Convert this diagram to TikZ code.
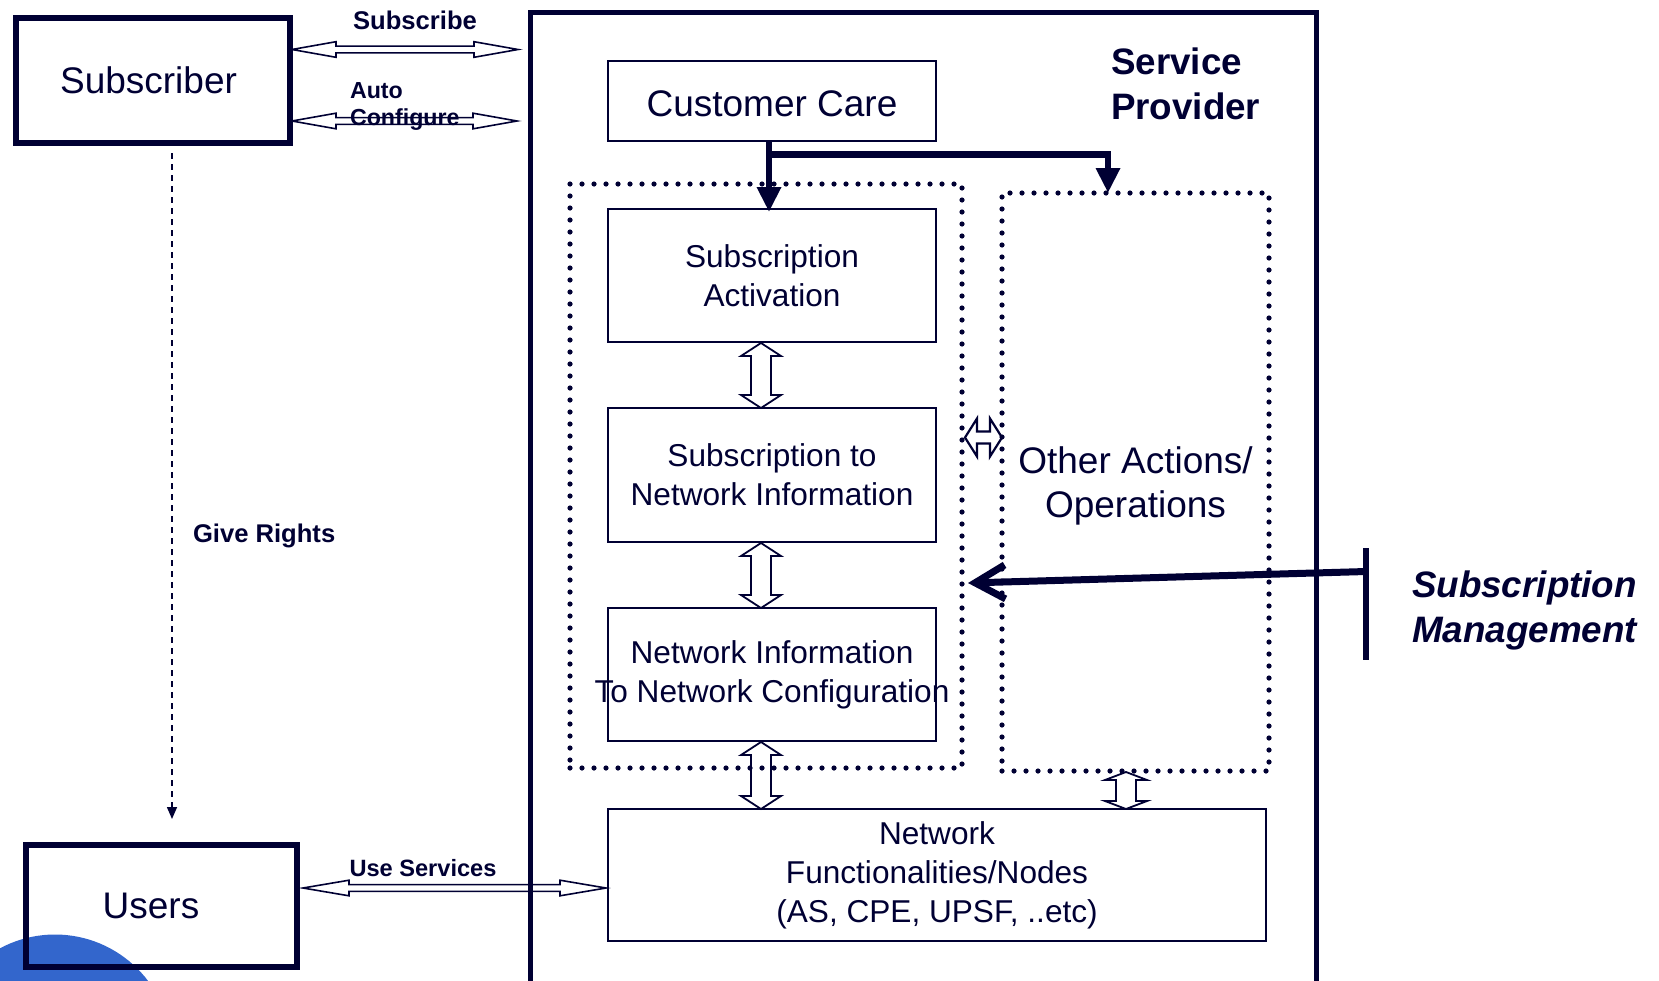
\documentclass[tikz,border=0pt]{standalone}
\usepackage{fontspec}
\setmainfont{Liberation Sans}
\usetikzlibrary{calc,arrows.meta}

\definecolor{c000033}{RGB}{0,0,51}
\definecolor{c3366cc}{RGB}{51,102,204}

\tikzset{
  actorbox/.style={draw=c000033, line width=3pt, text=c000033,
    font=\fontsize{18.5}{22}\selectfont},
  funcbox/.style={draw=c000033, line width=1pt, text=c000033, align=center,
    font=\fontsize{15.8}{19.5}\selectfont},
  groupbox/.style={draw=c000033, line width=2.6pt, line cap=round,
    dash pattern=on 0pt off 6pt},
  flowlabel/.style={text=c000033, font=\bfseries\fontsize{12.8}{13}\selectfont},
  blockarrow/.style n args={3}{draw=c000033, line width=0.8pt, line join=miter,
    to path={
      ($(\tikztostart)!#1!(\tikztotarget)$) coordinate (ba1)
      ($(\tikztotarget)!#1!(\tikztostart)$) coordinate (ba2)
      (\tikztostart) -- ($(ba1)!#2!90:(\tikztotarget)$)
      -- ($(ba1)!#3!90:(\tikztotarget)$) -- ($(ba2)!#3!-90:(\tikztostart)$)
      -- ($(ba2)!#2!-90:(\tikztostart)$) -- (\tikztotarget)
      -- ($(ba2)!#2!90:(\tikztostart)$) -- ($(ba2)!#3!90:(\tikztostart)$)
      -- ($(ba1)!#3!-90:(\tikztotarget)$) -- ($(ba1)!#2!-90:(\tikztotarget)$)
      -- cycle}},
  ccarrow/.style={draw=c000033, line width=3.25pt,
    -{Triangle[length=12.5pt,width=11.5pt]}},
  rightsline/.style={draw=c000033, line width=0.75pt, dash pattern=on 3pt off 2.5pt,
    -{Triangle[length=6pt,width=5pt]}},
  mgmtbar/.style={draw=c000033, line width=3pt},
  mgmtarrow/.style={draw=c000033, line width=3.5pt,
    -{Straight Barb[length=15pt,width=17pt]}},
}

\begin{document}
\begin{tikzpicture}[y=0.50pt, x=0.50pt, yscale=-1.000000, xscale=1.000000, inner sep=0pt, outer sep=0pt]
\useasboundingbox (0,0) rectangle (1659,980);
\begin{scope}% background
  % blob
  \path[fill=c3366cc] (55,1051) circle (116.5);
\end{scope}
\begin{scope}% actors
  \node[actorbox, minimum width=137pt, minimum height=62.5pt] (sub) at (153,80.5) {\hspace*{-4.5pt}Subscriber};
  \node[actorbox, minimum width=135.5pt, minimum height=61pt] (users) at (161.5,906) {\hspace*{-10.5pt}Users};
\end{scope}
\begin{scope}% provider
  \node[draw=c000033, line width=2.5pt, minimum width=393pt, minimum height=494pt] (sp) at (923,506) {};
  \node[text=c000033, anchor=west, align=left, font=\bfseries\fontsize{18.4}{22.2}\selectfont]
    (sptitle) at (1111,84) {Service\\Provider};
  % functions
  \node[funcbox, minimum width=164pt, minimum height=40pt, text height=15.3pt, text depth=0pt,
    font=\fontsize{18.5}{22}\selectfont] (cc) at (772,101) {Customer Care};
  \node[funcbox, minimum width=164pt, minimum height=66.5pt] (sa) at (772,275.5) {Subscription\\Activation};
  \node[funcbox, minimum width=164pt, minimum height=67pt] (sni) at (772,475) {Subscription to\\Network Information};
  \node[funcbox, minimum width=164pt, minimum height=66.5pt] (ninc) at (772,674.5)
    {Network Information\\\makebox[0pt]{To Network Configuration}};
  \node[funcbox, minimum width=329pt, minimum height=66pt] (nf) at (937,875)
    {Network\\Functionalities/Nodes\\(AS, CPE, UPSF, ..etc)};
  % groups
  \node[groupbox, minimum width=196pt, minimum height=292pt] (lgrp) at (766,476) {};
  \node[groupbox, minimum width=133.5pt, minimum height=289pt] (ogrp) at (1135.5,482) {};
  \node[text=c000033, align=center, font=\fontsize{18.5}{22.2}\selectfont]
    (otext) at ($(ogrp)+(0,4)$) {Other Actions/\\Operations};
\end{scope}
\begin{scope}% labels
  \node[flowlabel] (lsubscribe) at (415,20.5) {Subscribe};
  \node[flowlabel, anchor=west, align=left, font=\bfseries\fontsize{11.6}{13.5}\selectfont]
    (lauto) at (350,106.5) {Auto\\Configure};
  \node[flowlabel, font=\bfseries\fontsize{11.8}{13}\selectfont] (luse) at (423,868) {Use Services};
  \node[flowlabel, anchor=west] (lrights) at (193,536) {Give Rights};
  \node[text=c000033, anchor=west, align=left, font=\bfseries\itshape\fontsize{18.4}{22.5}\selectfont]
    (smlabel) at (1412,610) {Subscription\\Management};
\end{scope}
\begin{scope}% connectors
  % subscribe
  \coordinate (subscrA) at ($(sub.east)+(2,-31)$);
  \coordinate (subscrB) at ($(sp.west |- sub.east)+(-12,-31)$);
  \draw[blockarrow={22pt}{3.9pt}{1.7pt}] (subscrA) to (subscrB);
  % auto configure
  \coordinate (autoA) at ($(sub.east)+(2,40.5)$);
  \coordinate (autoB) at ($(sp.west |- sub.east)+(-13,40.5)$);
  \draw[blockarrow={22pt}{3.9pt}{1.7pt}] (autoA) to (autoB);
  % use services
  \coordinate (useA) at ($(users.east)+(6,-18)$);
  \coordinate (useB) at ($(nf.west |- users.east)+(-2,-18)$);
  \draw[blockarrow={23pt}{3.9pt}{1.7pt}] (useA) to (useB);
  % function chain
  \coordinate (saA) at ($(sa.south)+(-11,1)$);
  \coordinate (saB) at ($(sni.north)+(-11,0)$);
  \draw[blockarrow={6.5pt}{10pt}{5pt}, line width=0.9pt] (saA) to (saB);
  \coordinate (sniA) at ($(sni.south)+(-11,1)$);
  \coordinate (sniB) at ($(ninc.north)+(-11,0)$);
  \draw[blockarrow={6.5pt}{10pt}{5pt}, line width=0.9pt] (sniA) to (sniB);
  \coordinate (nincA) at ($(ninc.south)+(-11,1)$);
  \coordinate (nincB) at ($(ninc.south |- nf.north)+(-11,0)$);
  \draw[blockarrow={6.5pt}{10pt}{5pt}, line width=0.9pt] (nincA) to (nincB);
  \coordinate (ogrpA) at ($(ogrp.south)+(-9.5,1)$);
  \coordinate (ogrpB) at ($(ogrp.south |- nf.north)+(-9.5,0)$);
  \draw[blockarrow={4pt}{10.5pt}{5pt}, line width=0.9pt] (ogrpA) to (ogrpB);
  \coordinate (grpA) at ($(lgrp.east)+(3,-38.5)$);
  \coordinate (grpB) at ($(ogrp.west |- lgrp.east)+(0,-38.5)$);
  \draw[blockarrow={6pt}{9.5pt}{3pt}, line width=1.1pt] (grpA) to (grpB);
  % customer care
  \draw[ccarrow] ($(cc.south)+(-3,0)$) -- ($(sa.north)+(-3,3)$);
  \draw[ccarrow] ($(cc.south)+(-3,13.5)$) -| ($(ogrp.north)+(-27.5,0)$);
  % give rights
  \draw[rightsline] ($(sub.south)+(19,10)$) -- ($(users.north)+(10.5,-26)$);
  % subscription management
  \coordinate (mgmt) at (1366,571.5);
  \draw[mgmtbar] ($(mgmt)+(0,-23.5)$) -- ($(mgmt)+(0,88.5)$);
  \draw[mgmtarrow] (mgmt) -- ($(lgrp.east)+(6,107)$);
\end{scope}
\end{tikzpicture}
\end{document}
